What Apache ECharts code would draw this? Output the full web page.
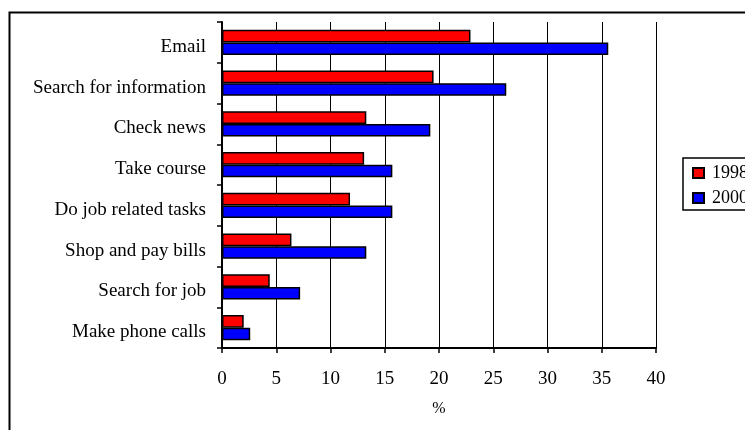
<!DOCTYPE html>
<html>
<head>
<meta charset="utf-8">
<script src="https://cdn.jsdelivr.net/npm/echarts@6/dist/echarts.min.js"></script>
<style>
  html, body { margin: 0; padding: 0; background: #fff; }
  #chart { width: 745px; height: 430px; }
</style>
</head>
<body>
<div id="chart"></div>
<script>
// Online activities, share of users (%)
const categories = [
  'Email',
  'Search for information',
  'Check news',
  'Take course',
  'Do job related tasks',
  'Shop and pay bills',
  'Search for job',
  'Make phone calls'
];
const values1998 = [22.9, 19.5, 13.3, 13.1, 11.8, 6.4, 4.4, 2.0];
const values2000 = [35.6, 26.2, 19.2, 15.7, 15.7, 13.3, 7.2, 2.6];
const xTicks = { min: 0, max: 40, interval: 5 };
const xName = '%';

const FONT = 'Liberation Serif';
const chart = echarts.init(document.getElementById('chart'));

chart.setOption({
  backgroundColor: '#fff',
  animation: false,
  graphic: [{
    type: 'rect',
    left: 7, top: 10,
    shape: { width: 800, height: 500 },
    style: { fill: 'none', stroke: '#000', lineWidth: 2 },
    silent: true
  }],
  grid: { left: 222, right: 89, top: 22, bottom: 82, containLabel: false },
  legend: {
    orient: 'vertical',
    left: 683, top: 158,
    padding: [6, 40, 3, 9],
    itemGap: 7,
    itemWidth: 11,
    itemHeight: 10,
    icon: 'rect',
    borderColor: '#000',
    borderWidth: 1.5,
    textStyle: { fontFamily: FONT, fontSize: 18, color: '#000', padding: [4, 0, 0, 3] },
    data: ['1998', '2000']
  },
  xAxis: {
    type: 'value',
    min: xTicks.min, max: xTicks.max, interval: xTicks.interval,
    name: xName,
    nameLocation: 'middle',
    nameGap: 53,
    nameTextStyle: { fontFamily: FONT, fontSize: 16, color: '#000' },
    axisLine: { show: true, lineStyle: { color: '#000', width: 2 } },
    axisTick: { show: true, length: 5, lineStyle: { color: '#000', width: 1.5 } },
    axisLabel: { fontFamily: FONT, fontSize: 19, color: '#000', margin: 22 },
    splitLine: { show: true, lineStyle: { color: '#000', width: 1 } }
  },
  yAxis: {
    type: 'category',
    inverse: true,
    data: categories,
    axisLine: { show: true, lineStyle: { color: '#000', width: 2 } },
    axisTick: { show: true, length: 5, lineStyle: { color: '#000', width: 1.5 } },
    axisLabel: {
      fontFamily: FONT, fontSize: 19, color: '#000', margin: 16,
      verticalAlign: 'top', lineHeight: 9
    },
    splitLine: { show: false }
  },
  series: [
    {
      name: '1998', type: 'bar', data: values1998,
      barGap: '0%', barCategoryGap: '38%',
      itemStyle: { color: '#ff0000', borderColor: '#000', borderWidth: 1.5 }
    },
    {
      name: '2000', type: 'bar', data: values2000,
      barGap: '0%', barCategoryGap: '38%',
      itemStyle: { color: '#0000ff', borderColor: '#000', borderWidth: 1.5 }
    }
  ]
});
</script>
</body>
</html>
